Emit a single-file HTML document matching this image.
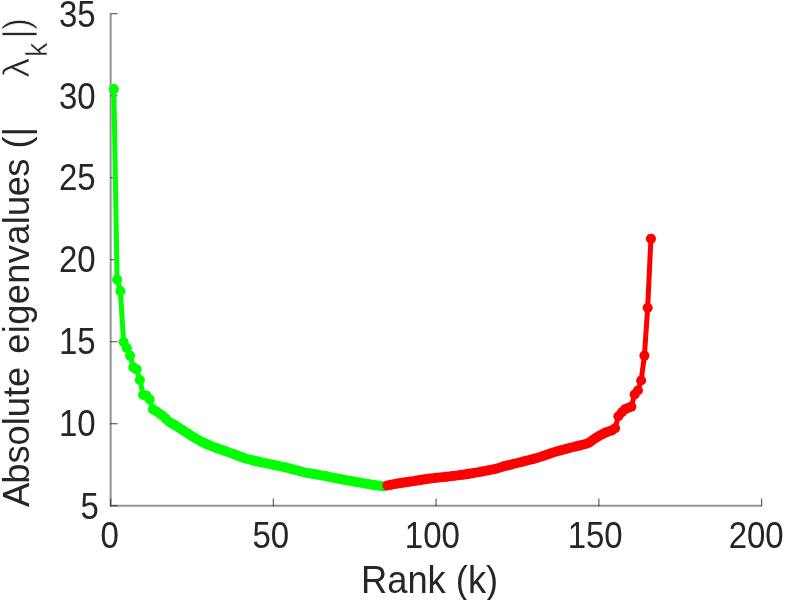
<!DOCTYPE html>
<html><head><meta charset="utf-8"><title>Eigenvalue spectrum</title>
<style>
html,body{margin:0;padding:0;background:#fff;}
body{width:792px;height:600px;overflow:hidden;}
svg{display:block;}
text{font-family:"Liberation Sans",Arial,Helvetica,sans-serif;fill:#262626;}
.t{font-size:33px;}
.l{font-size:36.3px;}
.thin{stroke:#fff;stroke-width:0.7px;}
</style></head><body>
<svg width="792" height="600" viewBox="0 0 792 600">
<rect width="792" height="600" fill="#fff"/>

<g stroke="#262626" stroke-width="2" fill="none" stroke-opacity="0.5">
<path d="M110.65 13.7 V505.75 H761.6"/>
</g>
<g stroke="#262626" stroke-width="1.15" fill="none" stroke-opacity="0.75">
<path d="M110.2 505.70 H117.6"/>
<path d="M110.2 423.70 H117.6"/>
<path d="M110.2 341.70 H117.6"/>
<path d="M110.2 259.70 H117.6"/>
<path d="M110.2 177.70 H117.6"/>
<path d="M110.2 95.70 H117.6"/>
<path d="M110.2 13.70 H117.6"/>
<path d="M110.60 506.2 V498.4"/>
<path d="M273.35 506.2 V498.4"/>
<path d="M436.10 506.2 V498.4"/>
<path d="M598.85 506.2 V498.4"/>
<path d="M761.60 506.2 V498.4"/>
</g>
<g fill="none" stroke="#00ff00" stroke-width="5.0" stroke-linejoin="round" stroke-linecap="round"><polyline points="113.85,88.95 117.11,279.68 120.36,291.16 123.62,342.00 126.88,348.07 130.13,355.61 133.38,367.42 136.64,369.39 139.89,380.05 143.15,394.97 146.41,395.63 149.66,399.40 152.91,409.40 156.17,411.21 159.42,413.50 162.68,415.80 165.94,418.92 169.19,422.03 172.44,423.84 175.70,425.64 178.95,427.77 182.21,429.90 185.46,432.04 188.72,434.17 191.97,436.30 195.23,438.16 198.48,440.02 201.74,441.88 205.00,443.35 208.25,444.83 211.50,446.30 214.76,447.45 218.01,448.60 221.27,449.75 224.52,450.90 227.78,452.04 231.03,453.19 234.29,454.42 237.54,455.65 240.80,456.88 244.05,458.11 247.31,458.95 250.56,459.79 253.82,460.63 257.07,461.37 260.33,462.08 263.58,462.80 266.84,463.51 270.10,464.22 273.35,464.92 276.61,465.60 279.86,466.29 283.12,466.97 286.37,467.66 289.62,468.45 292.88,469.34 296.13,470.23 299.39,471.12 302.64,472.01 305.90,472.76 309.15,473.31 312.41,473.86 315.66,474.40 318.92,474.95 322.17,475.52 325.43,476.17 328.68,476.81 331.94,477.45 335.19,478.10 338.45,478.73 341.70,479.33 344.96,479.93 348.21,480.53 351.47,481.13 354.73,481.73 357.98,482.31 361.24,482.89 364.49,483.46 367.75,484.04 371.00,484.62 374.25,485.10 377.51,485.56 380.76,486.02 384.02,486.48"/></g>
<g fill="#00ff00"><circle cx="113.85" cy="88.95" r="5.05"/><circle cx="117.11" cy="279.68" r="5.05"/><circle cx="120.36" cy="291.16" r="5.05"/><circle cx="123.62" cy="342.00" r="5.05"/><circle cx="126.88" cy="348.07" r="5.05"/><circle cx="130.13" cy="355.61" r="5.05"/><circle cx="133.38" cy="367.42" r="5.05"/><circle cx="136.64" cy="369.39" r="5.05"/><circle cx="139.89" cy="380.05" r="5.05"/><circle cx="143.15" cy="394.97" r="5.05"/><circle cx="146.41" cy="395.63" r="5.05"/><circle cx="149.66" cy="399.40" r="5.05"/><circle cx="152.91" cy="409.40" r="5.05"/><circle cx="156.17" cy="411.21" r="5.05"/><circle cx="159.42" cy="413.50" r="5.05"/><circle cx="162.68" cy="415.80" r="5.05"/><circle cx="165.94" cy="418.92" r="5.05"/><circle cx="169.19" cy="422.03" r="5.05"/><circle cx="172.44" cy="423.84" r="5.05"/><circle cx="175.70" cy="425.64" r="5.05"/><circle cx="178.95" cy="427.77" r="5.05"/><circle cx="182.21" cy="429.90" r="5.05"/><circle cx="185.46" cy="432.04" r="5.05"/><circle cx="188.72" cy="434.17" r="5.05"/><circle cx="191.97" cy="436.30" r="5.05"/><circle cx="195.23" cy="438.16" r="5.05"/><circle cx="198.48" cy="440.02" r="5.05"/><circle cx="201.74" cy="441.88" r="5.05"/><circle cx="205.00" cy="443.35" r="5.05"/><circle cx="208.25" cy="444.83" r="5.05"/><circle cx="211.50" cy="446.30" r="5.05"/><circle cx="214.76" cy="447.45" r="5.05"/><circle cx="218.01" cy="448.60" r="5.05"/><circle cx="221.27" cy="449.75" r="5.05"/><circle cx="224.52" cy="450.90" r="5.05"/><circle cx="227.78" cy="452.04" r="5.05"/><circle cx="231.03" cy="453.19" r="5.05"/><circle cx="234.29" cy="454.42" r="5.05"/><circle cx="237.54" cy="455.65" r="5.05"/><circle cx="240.80" cy="456.88" r="5.05"/><circle cx="244.05" cy="458.11" r="5.05"/><circle cx="247.31" cy="458.95" r="5.05"/><circle cx="250.56" cy="459.79" r="5.05"/><circle cx="253.82" cy="460.63" r="5.05"/><circle cx="257.07" cy="461.37" r="5.05"/><circle cx="260.33" cy="462.08" r="5.05"/><circle cx="263.58" cy="462.80" r="5.05"/><circle cx="266.84" cy="463.51" r="5.05"/><circle cx="270.10" cy="464.22" r="5.05"/><circle cx="273.35" cy="464.92" r="5.05"/><circle cx="276.61" cy="465.60" r="5.05"/><circle cx="279.86" cy="466.29" r="5.05"/><circle cx="283.12" cy="466.97" r="5.05"/><circle cx="286.37" cy="467.66" r="5.05"/><circle cx="289.62" cy="468.45" r="5.05"/><circle cx="292.88" cy="469.34" r="5.05"/><circle cx="296.13" cy="470.23" r="5.05"/><circle cx="299.39" cy="471.12" r="5.05"/><circle cx="302.64" cy="472.01" r="5.05"/><circle cx="305.90" cy="472.76" r="5.05"/><circle cx="309.15" cy="473.31" r="5.05"/><circle cx="312.41" cy="473.86" r="5.05"/><circle cx="315.66" cy="474.40" r="5.05"/><circle cx="318.92" cy="474.95" r="5.05"/><circle cx="322.17" cy="475.52" r="5.05"/><circle cx="325.43" cy="476.17" r="5.05"/><circle cx="328.68" cy="476.81" r="5.05"/><circle cx="331.94" cy="477.45" r="5.05"/><circle cx="335.19" cy="478.10" r="5.05"/><circle cx="338.45" cy="478.73" r="5.05"/><circle cx="341.70" cy="479.33" r="5.05"/><circle cx="344.96" cy="479.93" r="5.05"/><circle cx="348.21" cy="480.53" r="5.05"/><circle cx="351.47" cy="481.13" r="5.05"/><circle cx="354.73" cy="481.73" r="5.05"/><circle cx="357.98" cy="482.31" r="5.05"/><circle cx="361.24" cy="482.89" r="5.05"/><circle cx="364.49" cy="483.46" r="5.05"/><circle cx="367.75" cy="484.04" r="5.05"/><circle cx="371.00" cy="484.62" r="5.05"/><circle cx="374.25" cy="485.10" r="5.05"/><circle cx="377.51" cy="485.56" r="5.05"/><circle cx="380.76" cy="486.02" r="5.05"/><circle cx="384.02" cy="486.48" r="5.05"/></g>
<g fill="none" stroke="#ff0000" stroke-width="5.0" stroke-linejoin="round" stroke-linecap="round"><polyline points="387.27,485.50 390.53,484.86 393.78,484.21 397.04,483.60 400.29,483.12 403.55,482.63 406.80,482.15 410.06,481.67 413.31,481.18 416.57,480.67 419.82,480.16 423.08,479.64 426.34,479.13 429.59,478.61 432.85,478.26 436.10,477.90 439.36,477.55 442.61,477.20 445.87,476.84 449.12,476.46 452.38,476.07 455.63,475.69 458.88,475.30 462.14,474.92 465.39,474.41 468.65,473.87 471.90,473.34 475.16,472.80 478.41,472.27 481.67,471.67 484.92,471.02 488.18,470.38 491.43,469.74 494.69,469.09 497.94,468.25 501.20,467.20 504.45,466.15 507.71,465.37 510.97,464.59 514.22,463.79 517.48,463.00 520.73,462.21 523.99,461.38 527.24,460.54 530.50,459.71 533.75,458.87 537.00,458.03 540.26,457.00 543.51,455.87 546.77,454.75 550.02,453.62 553.28,452.49 556.53,451.52 559.79,450.65 563.04,449.79 566.30,448.92 569.55,448.05 572.81,447.21 576.06,446.41 579.32,445.61 582.57,444.80 585.83,444.00 589.08,442.61 592.34,440.34 595.60,438.07 598.85,436.15 602.11,434.32 605.36,432.63 608.62,431.52 611.87,430.40 615.12,428.26 618.38,416.29 621.63,412.52 624.89,409.40 628.14,407.93 631.40,406.62 634.65,394.48 637.91,390.54 641.16,380.54 644.42,355.61 647.67,307.72 650.93,238.68"/></g>
<g fill="#ff0000"><circle cx="387.27" cy="485.50" r="5.05"/><circle cx="390.53" cy="484.86" r="5.05"/><circle cx="393.78" cy="484.21" r="5.05"/><circle cx="397.04" cy="483.60" r="5.05"/><circle cx="400.29" cy="483.12" r="5.05"/><circle cx="403.55" cy="482.63" r="5.05"/><circle cx="406.80" cy="482.15" r="5.05"/><circle cx="410.06" cy="481.67" r="5.05"/><circle cx="413.31" cy="481.18" r="5.05"/><circle cx="416.57" cy="480.67" r="5.05"/><circle cx="419.82" cy="480.16" r="5.05"/><circle cx="423.08" cy="479.64" r="5.05"/><circle cx="426.34" cy="479.13" r="5.05"/><circle cx="429.59" cy="478.61" r="5.05"/><circle cx="432.85" cy="478.26" r="5.05"/><circle cx="436.10" cy="477.90" r="5.05"/><circle cx="439.36" cy="477.55" r="5.05"/><circle cx="442.61" cy="477.20" r="5.05"/><circle cx="445.87" cy="476.84" r="5.05"/><circle cx="449.12" cy="476.46" r="5.05"/><circle cx="452.38" cy="476.07" r="5.05"/><circle cx="455.63" cy="475.69" r="5.05"/><circle cx="458.88" cy="475.30" r="5.05"/><circle cx="462.14" cy="474.92" r="5.05"/><circle cx="465.39" cy="474.41" r="5.05"/><circle cx="468.65" cy="473.87" r="5.05"/><circle cx="471.90" cy="473.34" r="5.05"/><circle cx="475.16" cy="472.80" r="5.05"/><circle cx="478.41" cy="472.27" r="5.05"/><circle cx="481.67" cy="471.67" r="5.05"/><circle cx="484.92" cy="471.02" r="5.05"/><circle cx="488.18" cy="470.38" r="5.05"/><circle cx="491.43" cy="469.74" r="5.05"/><circle cx="494.69" cy="469.09" r="5.05"/><circle cx="497.94" cy="468.25" r="5.05"/><circle cx="501.20" cy="467.20" r="5.05"/><circle cx="504.45" cy="466.15" r="5.05"/><circle cx="507.71" cy="465.37" r="5.05"/><circle cx="510.97" cy="464.59" r="5.05"/><circle cx="514.22" cy="463.79" r="5.05"/><circle cx="517.48" cy="463.00" r="5.05"/><circle cx="520.73" cy="462.21" r="5.05"/><circle cx="523.99" cy="461.38" r="5.05"/><circle cx="527.24" cy="460.54" r="5.05"/><circle cx="530.50" cy="459.71" r="5.05"/><circle cx="533.75" cy="458.87" r="5.05"/><circle cx="537.00" cy="458.03" r="5.05"/><circle cx="540.26" cy="457.00" r="5.05"/><circle cx="543.51" cy="455.87" r="5.05"/><circle cx="546.77" cy="454.75" r="5.05"/><circle cx="550.02" cy="453.62" r="5.05"/><circle cx="553.28" cy="452.49" r="5.05"/><circle cx="556.53" cy="451.52" r="5.05"/><circle cx="559.79" cy="450.65" r="5.05"/><circle cx="563.04" cy="449.79" r="5.05"/><circle cx="566.30" cy="448.92" r="5.05"/><circle cx="569.55" cy="448.05" r="5.05"/><circle cx="572.81" cy="447.21" r="5.05"/><circle cx="576.06" cy="446.41" r="5.05"/><circle cx="579.32" cy="445.61" r="5.05"/><circle cx="582.57" cy="444.80" r="5.05"/><circle cx="585.83" cy="444.00" r="5.05"/><circle cx="589.08" cy="442.61" r="5.05"/><circle cx="592.34" cy="440.34" r="5.05"/><circle cx="595.60" cy="438.07" r="5.05"/><circle cx="598.85" cy="436.15" r="5.05"/><circle cx="602.11" cy="434.32" r="5.05"/><circle cx="605.36" cy="432.63" r="5.05"/><circle cx="608.62" cy="431.52" r="5.05"/><circle cx="611.87" cy="430.40" r="5.05"/><circle cx="615.12" cy="428.26" r="5.05"/><circle cx="618.38" cy="416.29" r="5.05"/><circle cx="621.63" cy="412.52" r="5.05"/><circle cx="624.89" cy="409.40" r="5.05"/><circle cx="628.14" cy="407.93" r="5.05"/><circle cx="631.40" cy="406.62" r="5.05"/><circle cx="634.65" cy="394.48" r="5.05"/><circle cx="637.91" cy="390.54" r="5.05"/><circle cx="641.16" cy="380.54" r="5.05"/><circle cx="644.42" cy="355.61" r="5.05"/><circle cx="647.67" cy="307.72" r="5.05"/><circle cx="650.93" cy="238.68" r="5.05"/></g>
<text class="t" transform="translate(98.9 519.45) scale(1 1.1)" text-anchor="end">5</text>
<text class="t" transform="translate(95.7 435.55) scale(1 1.1)" text-anchor="end">10</text>
<text class="t" transform="translate(95.7 353.75) scale(1 1.1)" text-anchor="end">15</text>
<text class="t" transform="translate(95.7 271.75) scale(1 1.1)" text-anchor="end">20</text>
<text class="t" transform="translate(95.7 190.05) scale(1 1.1)" text-anchor="end">25</text>
<text class="t" transform="translate(95.7 108.75) scale(1 1.1)" text-anchor="end">30</text>
<text class="t" transform="translate(95.7 26.60) scale(1 1.1)" text-anchor="end">35</text>
<text class="t" transform="translate(109.7 547.8) scale(1 1.1)" text-anchor="middle">0</text>
<text class="t" transform="translate(270.8 547.8) scale(1 1.1)" text-anchor="middle">50</text>
<text class="t" transform="translate(432.3 547.8) scale(1 1.1)" text-anchor="middle">100</text>
<text class="t" transform="translate(595.2 547.8) scale(1 1.1)" text-anchor="middle">150</text>
<text class="t" transform="translate(756.2 547.8) scale(1 1.1)" text-anchor="middle">200</text>
<text class="l" transform="translate(429.6 593.2) scale(1 1.05)" text-anchor="middle">Rank (k)</text>
<text class="l" transform="translate(28.8 507) rotate(-90) scale(1 1.04)">A<tspan dx="-1">bsolute </tspan><tspan dx="3" letter-spacing="0.33">eigenval</tspan><tspan letter-spacing="-0.55">ues</tspan><tspan dx="0.4"> (|</tspan></text>
<text class="l thin" transform="translate(29.3 77.8) rotate(-90) scale(1.1 1)">λ</text>
<text transform="translate(47 57) rotate(-90)" style="font-size:29px;stroke:#fff;stroke-width:0.35px">k</text>
<text class="l thin" transform="translate(28.8 38.6) rotate(-90)">|<tspan dx="-0.8">)</tspan></text>
</svg></body></html>
